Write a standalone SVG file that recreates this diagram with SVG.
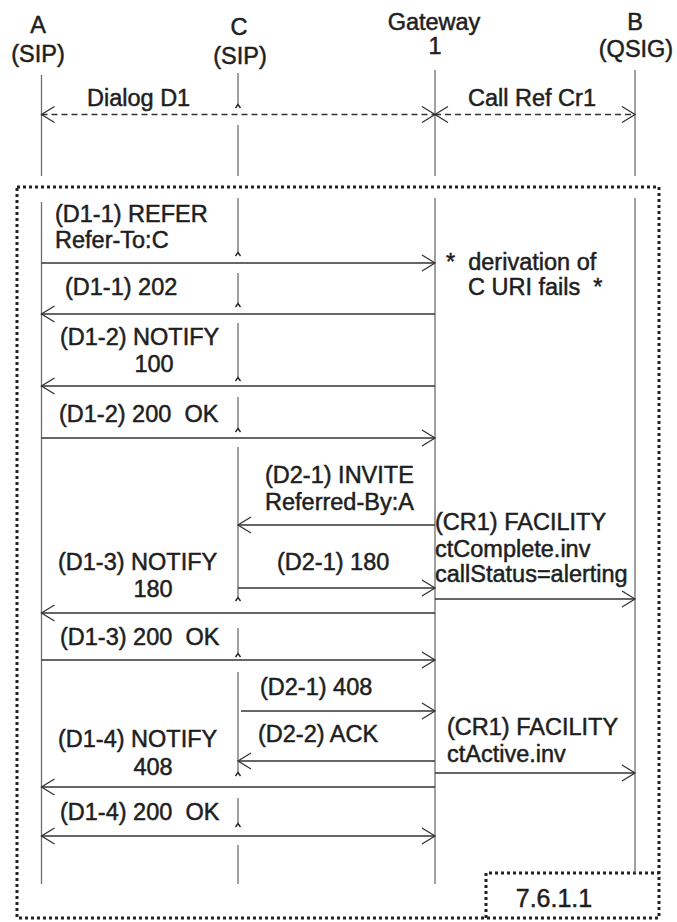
<svg xmlns="http://www.w3.org/2000/svg" width="677" height="922" viewBox="0 0 677 922">
<style>
text{font-family:"Liberation Sans",Arial,Helvetica,sans-serif;font-size:23.5px;fill:#1e1e1e;stroke:#1e1e1e;stroke-width:0.5px;}
.m{text-anchor:middle;}
.big{font-size:25px;}
.life{stroke:#6e6e6e;stroke-width:1.3;fill:none;}
.msg{stroke:#333;stroke-width:1.3;fill:none;marker-end:url(#ah);}
.bi{marker-start:url(#ah);}
.dash{stroke-dasharray:6,4;}
.caret{stroke:#222;stroke-width:1.4;fill:none;}
.dot{stroke:#222;stroke-width:3;stroke-dasharray:3,3;fill:none;}
</style>
<defs>
<marker id="ah" viewBox="-15 -10 17 20" refX="0" refY="0" markerWidth="17" markerHeight="20" markerUnits="userSpaceOnUse" orient="auto-start-reverse">
<path d="M-13,-8 L0,0 L-13,8" fill="none" stroke="#333" stroke-width="1.3"/>
</marker>
</defs>
<rect width="677" height="922" fill="#fff"/>

<g id="frame">
<rect class="dot" x="17" y="187" width="642" height="731"/>
<path class="dot" d="M486,918 V873 H659"/>
<text class="m big" x="554" y="907">7.6.1.1</text>
</g>

<g id="node-A">
<text class="m" x="38" y="33">A</text>
<text class="m" x="38" y="62">(SIP)</text>
<line class="life" x1="41.5" y1="75" x2="41.5" y2="176"/>
<line class="life" x1="41.5" y1="202" x2="41.5" y2="884"/>
</g>

<g id="node-C">
<text class="m" x="239" y="35">C</text>
<text class="m" x="240" y="64">(SIP)</text>
<path class="life" d="M238,73 V104 M238,125 V176 M238,198 V252 M238,273 V303 M238,323 V377 M238,397 V428 M238,447 V597 M238,628 V653 M238,672 V772 M238,798 V823 M238,845 V884"/>
<path class="caret" d="M235.5,108 L238,104.5 L240.5,108 M235.5,256 L238,252.5 L240.5,256 M235.5,307 L238,303.5 L240.5,307 M235.5,381 L238,377.5 L240.5,381 M235.5,432 L238,428.5 L240.5,432 M235.5,601 L238,597.5 L240.5,601 M235.5,657 L238,653.5 L240.5,657 M235.5,776 L238,772.5 L240.5,776 M235.5,827 L238,823.5 L240.5,827"/>
</g>

<g id="node-Gateway1">
<text class="m" x="434" y="30">Gateway</text>
<text class="m" x="435" y="54">1</text>
<line class="life" x1="435" y1="70" x2="435" y2="176"/>
<line class="life" x1="435" y1="198" x2="435" y2="884"/>
</g>

<g id="node-B">
<text class="m" x="635" y="30">B</text>
<text class="m" x="636" y="57">(QSIG)</text>
<line class="life" x1="635" y1="70" x2="635" y2="176"/>
<line class="life" x1="635" y1="198" x2="635" y2="873"/>
</g>

<g id="connectors">
<line class="msg bi dash" x1="41.5" y1="114.5" x2="435" y2="114.5"/>
<line class="msg bi dash" x1="435" y1="114.5" x2="635" y2="114.5"/>
<line class="msg" x1="41.5" y1="263" x2="435" y2="263"/>
<line class="msg" x1="435" y1="314" x2="41.5" y2="314"/>
<line class="msg" x1="435" y1="386" x2="41.5" y2="386"/>
<line class="msg" x1="41.5" y1="438" x2="435" y2="438"/>
<line class="msg" x1="435" y1="525" x2="238" y2="525"/>
<line class="msg" x1="238" y1="588" x2="435" y2="588"/>
<line class="msg" x1="435" y1="599" x2="635" y2="599"/>
<line class="msg" x1="435" y1="613" x2="41.5" y2="613"/>
<line class="msg" x1="41.5" y1="660" x2="435" y2="660"/>
<line class="msg" x1="241" y1="711" x2="435" y2="711"/>
<line class="msg" x1="435" y1="761" x2="238" y2="761"/>
<line class="msg" x1="435" y1="773" x2="635" y2="773"/>
<line class="msg" x1="435" y1="787" x2="41.5" y2="787"/>
<line class="msg bi" x1="41.5" y1="836" x2="435" y2="836"/>
</g>

<g id="labels">
<text x="87" y="106">Dialog D1</text>
<text x="468" y="106">Call Ref Cr1</text>
<text x="55" y="222">(D1-1) REFER</text>
<text x="55" y="248">Refer-To:C</text>
<text x="446" y="270" xml:space="preserve">*  derivation of</text>
<text x="468" y="295" xml:space="preserve">C URI fails  *</text>
<text x="65" y="295">(D1-1) 202</text>
<text x="60" y="345">(D1-2) NOTIFY</text>
<text class="m" x="154" y="372">100</text>
<text x="59" y="422" xml:space="preserve">(D1-2) 200  OK</text>
<text x="265" y="483">(D2-1) INVITE</text>
<text x="265" y="510">Referred-By:A</text>
<text x="435" y="530">(CR1) FACILITY</text>
<text x="435" y="557">ctComplete.inv</text>
<text x="435" y="582">callStatus=alerting</text>
<text x="277" y="570">(D2-1) 180</text>
<text x="58" y="570">(D1-3) NOTIFY</text>
<text class="m" x="153" y="597">180</text>
<text x="60" y="645" xml:space="preserve">(D1-3) 200  OK</text>
<text x="260" y="695">(D2-1) 408</text>
<text x="258" y="742">(D2-2) ACK</text>
<text x="447" y="735">(CR1) FACILITY</text>
<text x="447" y="762">ctActive.inv</text>
<text x="58" y="747">(D1-4) NOTIFY</text>
<text class="m" x="153" y="775">408</text>
<text x="60" y="820" xml:space="preserve">(D1-4) 200  OK</text>
</g>
</svg>
